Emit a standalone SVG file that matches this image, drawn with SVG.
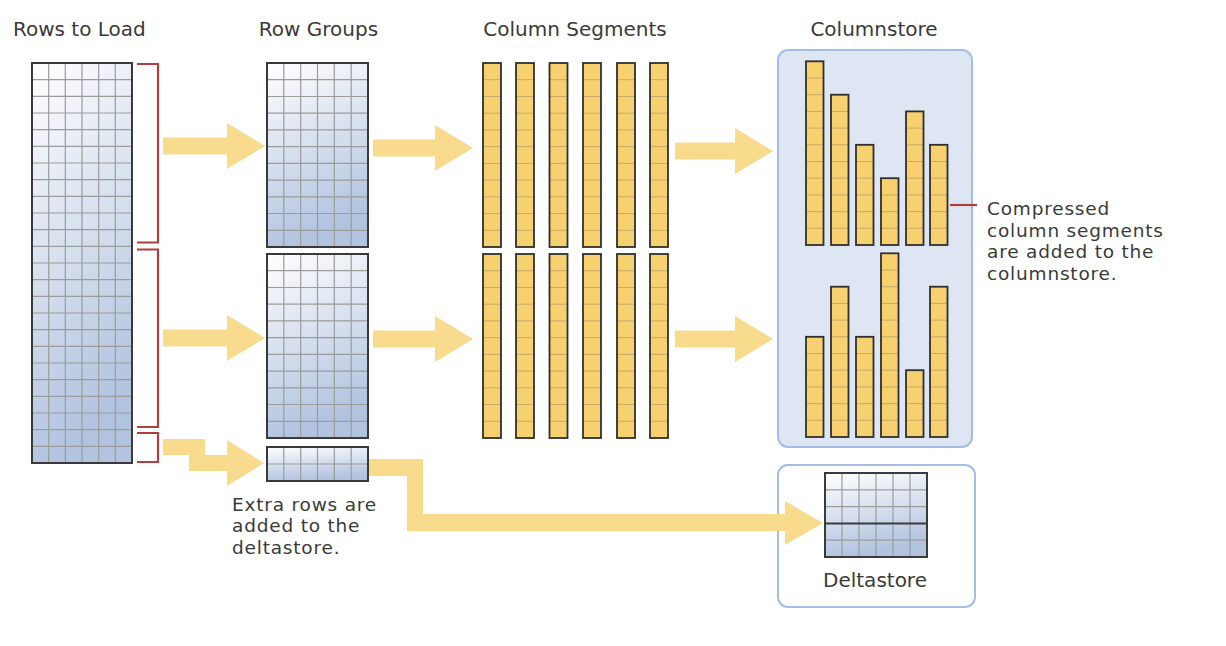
<svg xmlns="http://www.w3.org/2000/svg" width="1226" height="646" viewBox="0 0 1226 646">
<style>
.lbl{font-family:"DejaVu Sans",Verdana,"Liberation Sans",sans-serif;font-size:20px;fill:#3a3a3a}
.note{font-size:18.5px;letter-spacing:0.8px}
.mid{text-anchor:middle}
.grid{fill:none;stroke:#9c9c9c;stroke-width:1.2}
.frame{fill:none;stroke:#3a3a3a;stroke-width:2}
.bar{fill:#f7d170}
.barframe{fill:none;stroke:#2f2f2f;stroke-width:1.8}
.cell{fill:none;stroke:#c9aa66;stroke-width:1}
.arrow{fill:#f9db8e}
.brace{fill:none;stroke:#b23f3f;stroke-width:2.2}
.store{stroke:#a6bde3;stroke-width:2}
</style>
<defs>
<linearGradient id="blueGrad" x1="0" y1="0" x2="0.25" y2="1">
<stop offset="0" stop-color="#ffffff"/>
<stop offset="1" stop-color="#b1c3df"/>
</linearGradient>
<g id="rgTable">
<rect width="101" height="184" fill="url(#blueGrad)"/>
<path class="grid" d="M16.8 0V184M33.7 0V184M50.5 0V184M67.3 0V184M84.2 0V184M0 16.7H101M0 33.5H101M0 50.2H101M0 66.9H101M0 83.6H101M0 100.4H101M0 117.1H101M0 133.8H101M0 150.5H101M0 167.3H101"/>
<rect class="frame" width="101" height="184"/>
</g>
<g id="seg">
<rect class="bar" width="18" height="184"/>
<path class="cell" d="M0 16.7H18M0 33.5H18M0 50.2H18M0 66.9H18M0 83.6H18M0 100.4H18M0 117.1H18M0 133.8H18M0 150.5H18M0 167.3H18"/>
<rect class="barframe" width="18" height="184"/>
</g>
<clipPath id="clipTop">
<rect x="806" y="61.3" width="17.5" height="183.7"/>
<rect x="831" y="94.7" width="17.5" height="150.3"/>
<rect x="856" y="144.8" width="17.5" height="100.2"/>
<rect x="881" y="178.2" width="17.5" height="66.8"/>
<rect x="906" y="111.4" width="17.5" height="133.6"/>
<rect x="930" y="144.8" width="17.5" height="100.2"/>
</clipPath>
<clipPath id="clipBot">
<rect x="806" y="336.8" width="17.5" height="100.2"/>
<rect x="831" y="286.7" width="17.5" height="150.3"/>
<rect x="856" y="336.8" width="17.5" height="100.2"/>
<rect x="881" y="253.3" width="17.5" height="183.7"/>
<rect x="906" y="370.2" width="17.5" height="66.8"/>
<rect x="930" y="286.7" width="17.5" height="150.3"/>
</clipPath>
</defs>

<rect width="1226" height="646" fill="#ffffff"/>

<g id="titles">
<text class="lbl" x="13" y="36">Rows to Load</text>
<text class="lbl mid" x="318.5" y="36">Row Groups</text>
<text class="lbl mid" x="575" y="36">Column Segments</text>
<text class="lbl mid" x="874" y="36">Columnstore</text>
</g>

<g id="rows-to-load">
<rect x="32" y="63" width="100" height="400" fill="url(#blueGrad)"/>
<path class="grid" d="M48.7 63V463M65.3 63V463M82 63V463M98.7 63V463M115.3 63V463M32 79.7H132M32 96.3H132M32 113H132M32 129.7H132M32 146.3H132M32 163H132M32 179.7H132M32 196.3H132M32 213H132M32 229.7H132M32 246.3H132M32 263H132M32 279.7H132M32 296.3H132M32 313H132M32 329.7H132M32 346.3H132M32 363H132M32 379.7H132M32 396.3H132M32 413H132M32 429.7H132M32 446.3H132"/>
<rect class="frame" x="32" y="63" width="100" height="400"/>
</g>

<g id="row-group-1"><use href="#rgTable" x="267" y="63"/></g>
<g id="row-group-2"><use href="#rgTable" x="267" y="254"/></g>
<g id="row-group-extra">
<rect x="267" y="447" width="101" height="34" fill="url(#blueGrad)"/>
<path class="grid" d="M283.8 447V481M300.7 447V481M317.5 447V481M334.3 447V481M351.2 447V481M267 464H368"/>
<rect class="frame" x="267" y="447" width="101" height="34"/>
</g>
<g id="extra-rows-label">
<text class="lbl note" x="232" y="510.5">Extra rows are</text>
<text class="lbl note" x="232" y="532">added to the</text>
<text class="lbl note" x="232" y="553.5">deltastore.</text>
</g>

<g id="column-segments-1">
<use href="#seg" x="483" y="63"/>
<use href="#seg" x="516" y="63"/>
<use href="#seg" x="549.5" y="63"/>
<use href="#seg" x="583" y="63"/>
<use href="#seg" x="617" y="63"/>
<use href="#seg" x="650" y="63"/>
</g>
<g id="column-segments-2">
<use href="#seg" x="483" y="254"/>
<use href="#seg" x="516" y="254"/>
<use href="#seg" x="549.5" y="254"/>
<use href="#seg" x="583" y="254"/>
<use href="#seg" x="617" y="254"/>
<use href="#seg" x="650" y="254"/>
</g>

<g id="columnstore">
<rect class="store" x="778" y="50" width="194" height="397" rx="10" fill="#dfe6f3"/>
<g class="bar">
<rect x="806" y="61.3" width="17.5" height="183.7"/>
<rect x="831" y="94.7" width="17.5" height="150.3"/>
<rect x="856" y="144.8" width="17.5" height="100.2"/>
<rect x="881" y="178.2" width="17.5" height="66.8"/>
<rect x="906" y="111.4" width="17.5" height="133.6"/>
<rect x="930" y="144.8" width="17.5" height="100.2"/>
<rect x="806" y="336.8" width="17.5" height="100.2"/>
<rect x="831" y="286.7" width="17.5" height="150.3"/>
<rect x="856" y="336.8" width="17.5" height="100.2"/>
<rect x="881" y="253.3" width="17.5" height="183.7"/>
<rect x="906" y="370.2" width="17.5" height="66.8"/>
<rect x="930" y="286.7" width="17.5" height="150.3"/>
</g>
<path class="cell" clip-path="url(#clipTop)" d="M806 228.3H948M806 211.6H948M806 194.9H948M806 178.2H948M806 161.5H948M806 144.8H948M806 128.1H948M806 111.4H948M806 94.7H948M806 78H948"/>
<path class="cell" clip-path="url(#clipBot)" d="M806 420.3H948M806 403.6H948M806 386.9H948M806 370.2H948M806 353.5H948M806 336.8H948M806 320.1H948M806 303.4H948M806 286.7H948M806 270H948"/>
<g class="barframe">
<rect x="806" y="61.3" width="17.5" height="183.7"/>
<rect x="831" y="94.7" width="17.5" height="150.3"/>
<rect x="856" y="144.8" width="17.5" height="100.2"/>
<rect x="881" y="178.2" width="17.5" height="66.8"/>
<rect x="906" y="111.4" width="17.5" height="133.6"/>
<rect x="930" y="144.8" width="17.5" height="100.2"/>
<rect x="806" y="336.8" width="17.5" height="100.2"/>
<rect x="831" y="286.7" width="17.5" height="150.3"/>
<rect x="856" y="336.8" width="17.5" height="100.2"/>
<rect x="881" y="253.3" width="17.5" height="183.7"/>
<rect x="906" y="370.2" width="17.5" height="66.8"/>
<rect x="930" y="286.7" width="17.5" height="150.3"/>
</g>
</g>

<g id="columnstore-note">
<text class="lbl note" x="987" y="215">Compressed</text>
<text class="lbl note" x="987" y="236.5">column segments</text>
<text class="lbl note" x="987" y="258">are added to the</text>
<text class="lbl note" x="987" y="279.5">columnstore.</text>
</g>

<g id="deltastore">
<rect class="store" x="778" y="465" width="197" height="142" rx="10" fill="#ffffff"/>
<rect x="825" y="473" width="102" height="84" fill="url(#blueGrad)"/>
<path class="grid" d="M842 473V557M859 473V557M876 473V557M893 473V557M910 473V557M825 489.8H927M825 506.6H927M825 540.2H927"/>
<path class="frame" d="M825 523.4H927"/>
<rect class="frame" x="825" y="473" width="102" height="84"/>
<text class="lbl mid" x="875" y="587">Deltastore</text>
</g>

<g id="connectors">
<polygon class="arrow" points="163,137.5 227,137.5 227,123 265,146 227,169 227,154.5 163,154.5"/>
<polygon class="arrow" points="163,329.5 227,329.5 227,315 265,338 227,361 227,346.5 163,346.5"/>
<polygon class="arrow" points="373,139.5 435,139.5 435,125 473,148 435,171 435,156.5 373,156.5"/>
<polygon class="arrow" points="373,330.5 435,330.5 435,316 473,339 435,362 435,347.5 373,347.5"/>
<polygon class="arrow" points="675,142.5 735,142.5 735,128 773,151 735,174 735,159.5 675,159.5"/>
<polygon class="arrow" points="675,330.5 735,330.5 735,316 773,339 735,362 735,347.5 675,347.5"/>
<polygon class="arrow" points="163,439 205,439 205,455 227,455 227,440 264,463 227,486 227,471 189,471 189,455 163,455"/>
<polygon class="arrow" points="369,459 423,459 423,514 785,514 785,501 823,523 785,545 785,531 407,531 407,476 369,476"/>
<path class="brace" d="M137 64H158V242.5H137"/>
<path class="brace" d="M137 249.5H158V427H137"/>
<path class="brace" d="M137 433H158V462H137"/>
<path class="brace" d="M950 205H977"/>
</g>
</svg>
